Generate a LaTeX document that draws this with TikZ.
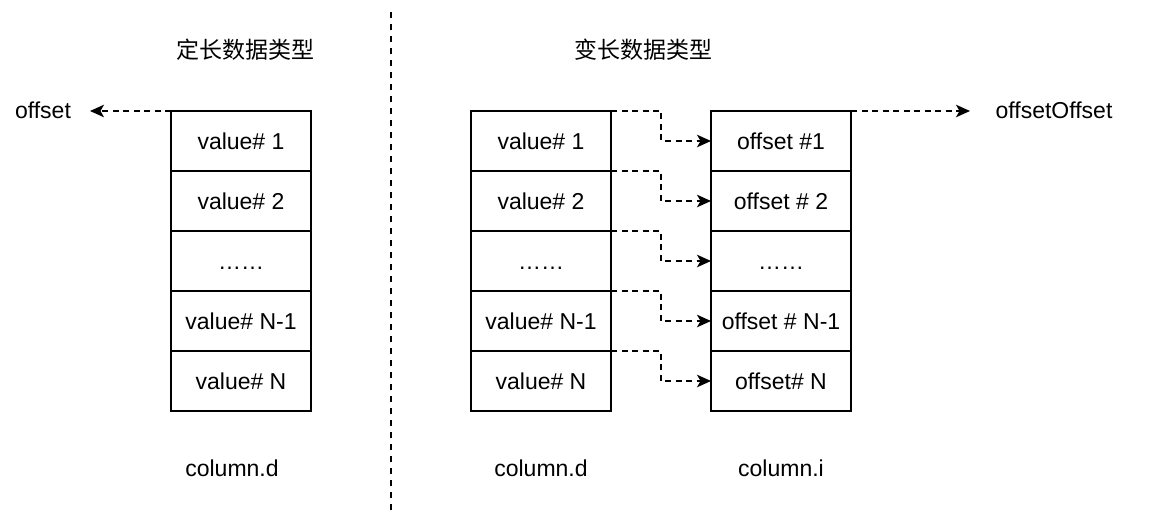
\documentclass[tikz,border=0pt]{standalone}
\usepackage{fontspec}
\setmainfont{Liberation Sans}
\newfontfamily\cjk{Noto Sans CJK SC}
\usetikzlibrary{positioning,arrows.meta}

\begin{document}
\begin{tikzpicture}[
        x=1pt, y=-1pt,
        font=\fontsize{23}{27}\selectfont,
        cellNode/.style={rectangle, draw, line width=1.5pt, minimum width=140pt, minimum height=60pt, inner sep=0pt, outer sep=0pt, text height=16.5pt, text depth=0pt},
        textNode/.style={inner sep=0pt},
        dashArrow/.style={line width=1.5pt, dash pattern=on 6pt off 4.5pt, -{Stealth[length=14pt, width=12.5pt, inset=3.5pt]}},
        dividerLine/.style={line width=1.5pt, dash pattern=on 6pt off 6pt}
    ]
        \useasboundingbox (0,0) rectangle (1162,524);

        % Titles
        \node[textNode] (fixTitle) at (245,50) {\cjk 定长数据类型};
        \node[textNode] (varTitle) at (643,50) {\cjk 变长数据类型};

        % Divider
        \coordinate (divTop) at (391,12);
        \coordinate (divBot) at (391,512);
        \draw[dividerLine] (divTop) -- (divBot);

        % Fixed length column
        \node[cellNode] (d1) at (241,141) {value\# 1};
        \node[cellNode, below=0pt of d1] (d2) {value\# 2};
        \node[cellNode, below=0pt of d2] (d3) {……};
        \node[cellNode, below=0pt of d3] (d4) {value\# N-1};
        \node[cellNode, below=0pt of d4] (d5) {value\# N};

        % Variable length data column
        \node[cellNode] (v1) at (541,141) {value\# 1};
        \node[cellNode, below=0pt of v1] (v2) {value\# 2};
        \node[cellNode, below=0pt of v2] (v3) {……};
        \node[cellNode, below=0pt of v3] (v4) {value\# N-1};
        \node[cellNode, below=0pt of v4] (v5) {value\# N};

        % Offset column
        \node[cellNode] (o1) at (781,141) {offset \#1};
        \node[cellNode, below=0pt of o1] (o2) {offset \# 2};
        \node[cellNode, below=0pt of o2] (o3) {……};
        \node[cellNode, below=0pt of o3] (o4) {offset \# N-1};
        \node[cellNode, below=0pt of o4] (o5) {offset\# N};

        % Outer labels
        \node[textNode] (offLabel) at (43,110) {offset};
        \node[textNode] (ooLabel) at (1054,110) {offsetOffset};
        \coordinate (offTip) at (90,111);
        \coordinate (ooTip) at (970,111);

        % Column names
        \node[textNode] at (232,468) {column.d};
        \node[textNode] at (541,468) {column.d};
        \node[textNode] at (781,468) {column.i};

        % Edges
        \draw[dashArrow] (d1.north west) -- (offTip);
        \draw[dashArrow] (o1.north east) -- (ooTip);
        \draw[dashArrow] (v1.north east) -| ([xshift=-50pt]o1.west) -- (o1.west);
        \draw[dashArrow] (v2.north east) -| ([xshift=-50pt]o2.west) -- (o2.west);
        \draw[dashArrow] (v3.north east) -| ([xshift=-50pt]o3.west) -- (o3.west);
        \draw[dashArrow] (v4.north east) -| ([xshift=-50pt]o4.west) -- (o4.west);
        \draw[dashArrow] (v5.north east) -| ([xshift=-50pt]o5.west) -- (o5.west);
    \end{tikzpicture}
\end{document}
